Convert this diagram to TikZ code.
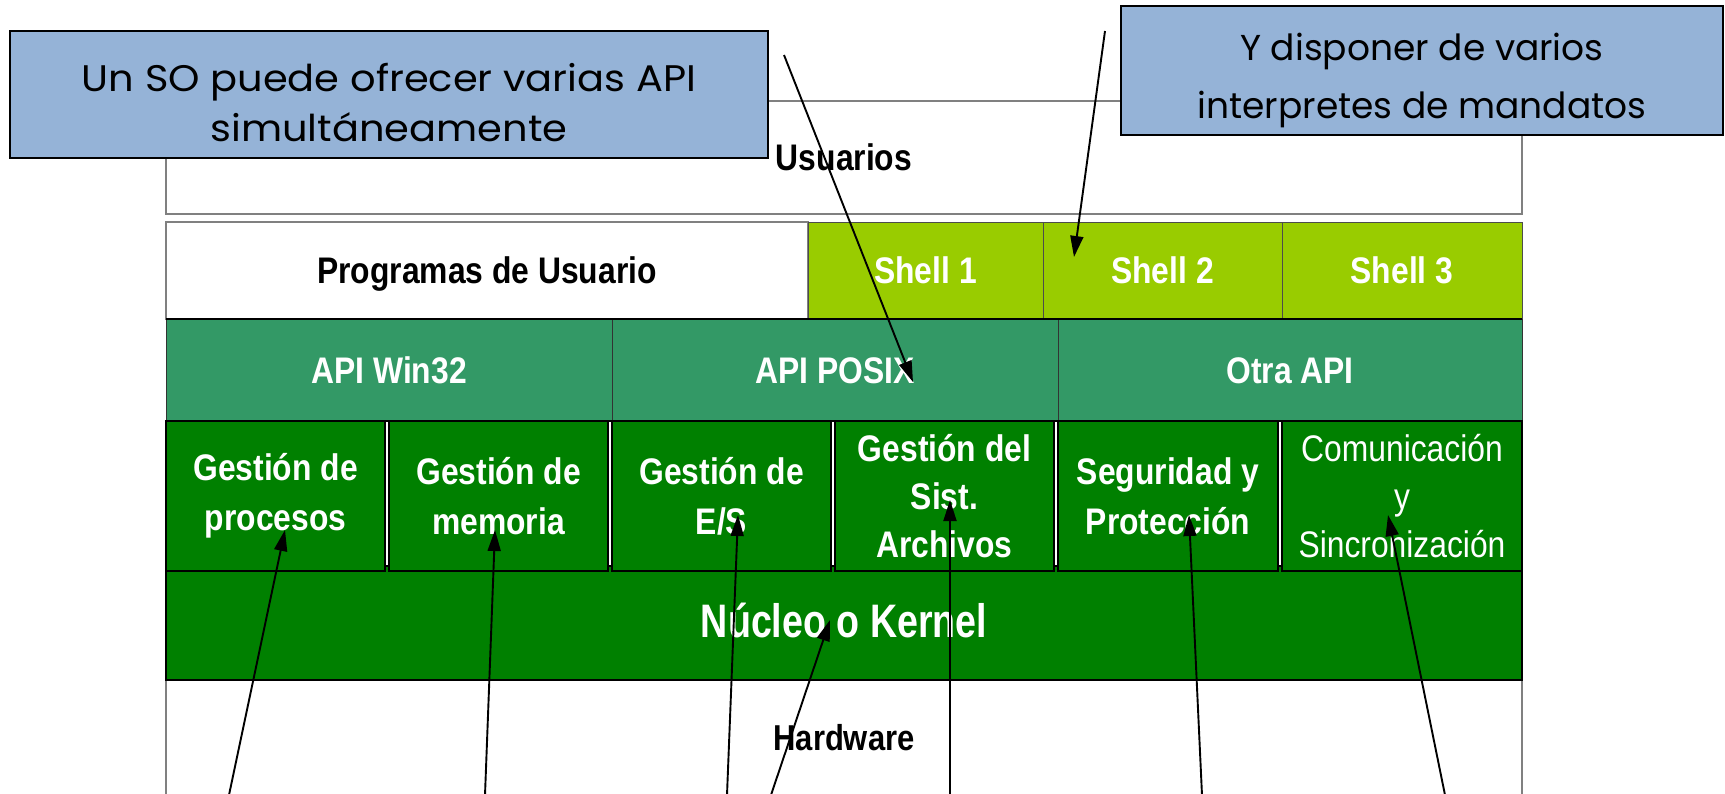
\documentclass[tikz,border=0pt]{standalone}
\usepackage{fontspec}
\usetikzlibrary{arrows.meta}
\newfontfamily\labfont[FakeStretch=0.86]{Liberation Sans}
\newfontfamily\kerfont[FakeStretch=0.8]{Liberation Sans}
\newfontfamily\callfont[FakeStretch=1.08]{Poppins}
\newfontfamily\calltwofont{Poppins}
\definecolor{shellgreen}{HTML}{99CC00}
\definecolor{apigreen}{HTML}{339966}
\definecolor{modgreen}{HTML}{008000}
\definecolor{callblue}{HTML}{95B3D7}
\definecolor{boxgrey}{HTML}{808080}
\tikzset{
  cell/.style={rectangle, inner sep=0pt, outer sep=0pt, anchor=north west},
  whitecell/.style={cell, draw=boxgrey, line width=1.2pt, fill=white,
     font=\labfont\bfseries\fontsize{37}{50}\selectfont, text=black},
  shellcell/.style={cell, draw=black!70, line width=0.8pt, fill=shellgreen,
     font=\labfont\bfseries\fontsize{37}{50}\selectfont, text=white},
  apicell/.style={cell, draw=black!80, line width=0.8pt, fill=apigreen,
     font=\labfont\bfseries\fontsize{37}{50}\selectfont, text=white},
  modcell/.style={cell, draw=black, line width=1.2pt, fill=modgreen, align=center,
     font=\labfont\bfseries\fontsize{37}{50}\selectfont, text=white},
  callout/.style={cell, draw=black, line width=2.5pt, fill=callblue},
  calltext/.style={align=center, inner sep=0pt, text=black},
  pointer/.style={draw=black, line width=1.9pt, -{Triangle[length=21pt,width=13pt]}},
}
\begin{document}
\begin{tikzpicture}[x=1pt,y=-1pt]
\useasboundingbox (0,0) rectangle (1725,793);
% Usuarios
\node[whitecell, minimum width=1356, minimum height=113, text height=26, text depth=0] (usu) at (166,101) {Usuarios};
% Row 2
\node[whitecell, minimum width=642, minimum height=97, text height=26, text depth=0] (prog) at (166,222) {Programas de Usuario};
\node[shellcell, minimum width=235, minimum height=97, text height=26, text depth=0] (sh1) at (808,222) {Shell 1};
\node[shellcell, minimum width=239, minimum height=97, text height=26, text depth=0] (sh2) at (1043,222) {Shell 2};
\node[shellcell, minimum width=240, minimum height=97, text height=26, text depth=0] (sh3) at (1282,222) {Shell 3};
% Row 3 API
\node[apicell, minimum width=446, minimum height=102, text height=26, text depth=0] (win) at (166,319) {API Win32};
\node[apicell, minimum width=446, minimum height=102, text height=26, text depth=0] (posix) at (612,319) {API POSIX};
\node[apicell, minimum width=464, minimum height=102, text height=26, text depth=0] (otra) at (1058,319) {Otra API};
\draw[black, line width=1.5pt] (win.north west) -- (otra.north east);
\draw[black, line width=1.5pt] (win.south west) -- (otra.south east);
% Hardware
\node[cell, draw=boxgrey, line width=1.2pt, fill=white, minimum width=1356, minimum height=130] (hw) at (166,680) {};
\node[font=\labfont\bfseries\fontsize{36}{50}\selectfont, inner sep=0pt, anchor=base] (hwtxt) at (844,750) {Hardware};
% Kernel
\node[cell, draw=black, line width=1.2pt, fill=modgreen, minimum width=1356, minimum height=114] (ker) at (166,566) {};
\node[font=\kerfont\bfseries\fontsize{47}{55}\selectfont, text=white, inner sep=0pt, anchor=base] (kertxt) at (844,637) {Núcleo o Kernel};
\draw[black, line width=2pt] (ker.south west) -- (ker.south east);
% Modules
\node[modcell, minimum width=219, minimum height=150] (proc) at (166,421) {Gestión de\\procesos};
\node[modcell, minimum width=219, minimum height=150] (mem) at (389,421) {Gestión de\\memoria};
\node[modcell, minimum width=219, minimum height=150] (es) at (612,421) {Gestión de\\E/S};
\node[modcell, minimum width=219, minimum height=150, font=\labfont\bfseries\fontsize{37}{48}\selectfont] (arch) at (835,421) {Gestión del\\Sist.\\Archivos};
\node[modcell, minimum width=220, minimum height=150] (seg) at (1058,421) {Seguridad y\\Protección};
\node[modcell, minimum width=240, minimum height=150, font=\labfont\fontsize{37}{48}\selectfont] (com) at (1282,421) {Comunicación\\y\\Sincronización};
% Callouts
\node[callout, minimum width=758, minimum height=127] (c1) at (10,31) {};
\node[calltext, font=\callfont\fontsize{37}{50}\selectfont, yshift=-8pt] (c1t) at (c1.center) {Un SO puede ofrecer varias API\\simultáneamente};
\node[callout, minimum width=602, minimum height=129] (c2) at (1121,6) {};
\node[calltext, font=\calltwofont\fontsize{36}{58}\selectfont, yshift=-10pt] (c2t) at (c2.center) {Y disponer de varios\\interpretes de mandatos};
% Arrow anchors
\coordinate (a1s) at (784,55);
\coordinate (a1e) at (913,382);
\coordinate (a2s) at (1105,31);
\coordinate (a2e) at (1074,257);
\coordinate (b1s) at (229,795);
\coordinate (b1e) at (285,530);
\coordinate (b2s) at (485,795);
\coordinate (b2e) at (495,530);
\coordinate (b3s) at (727,795);
\coordinate (b3e) at (738,515);
\coordinate (b4s) at (771,795);
\coordinate (b4e) at (830,620);
\coordinate (b5s) at (950,795);
\coordinate (b5e) at (950,500);
\coordinate (b6s) at (1202,795);
\coordinate (b6e) at (1189,515);
\coordinate (b7s) at (1445,795);
\coordinate (b7e) at (1388,515);
\draw[pointer] (a1s) -- (a1e);
\draw[pointer] (a2s) -- (a2e);
\draw[pointer] (b1s) -- (b1e);
\draw[pointer] (b2s) -- (b2e);
\draw[pointer] (b3s) -- (b3e);
\draw[pointer] (b4s) -- (b4e);
\draw[pointer] (b5s) -- (b5e);
\draw[pointer] (b6s) -- (b6e);
\draw[pointer] (b7s) -- (b7e);
\end{tikzpicture}
\end{document}
